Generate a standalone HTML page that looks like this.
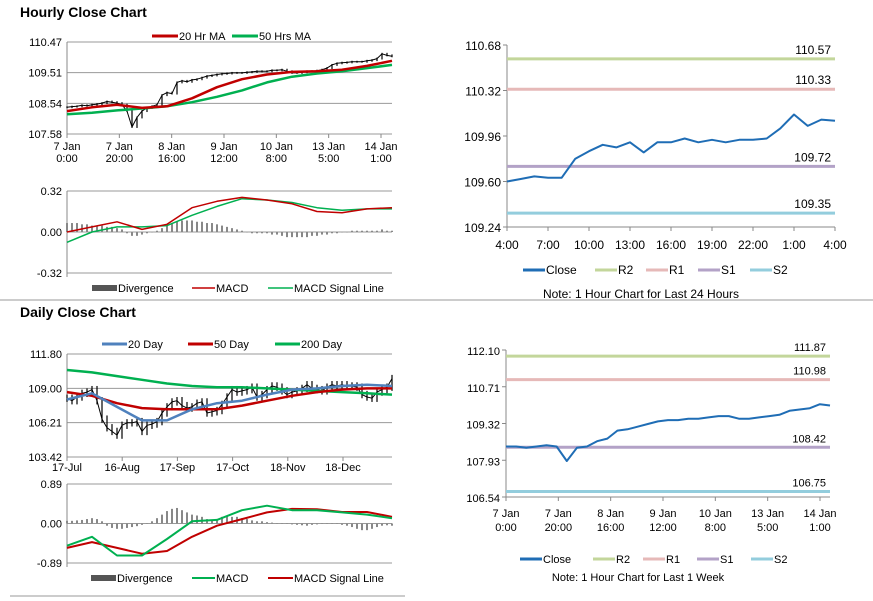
<!DOCTYPE html>
<html><head><meta charset="utf-8">
<style>
body{margin:0;background:#fff;}
svg{display:block;font-family:"Liberation Sans",sans-serif;}
.t{font-size:11px;fill:#000;}
.n{font-family:"Liberation Sans Narrow","Liberation Sans",sans-serif;font-size:12px;fill:#000;}
</style></head>
<body>
<svg id="s" width="873" height="601" viewBox="0 0 873 601">
<text x="20" y="17" font-size="14" font-weight="bold">Hourly Close Chart</text>
<text x="20" y="317" font-size="14" font-weight="bold">Daily Close Chart</text>
<line x1="0" y1="300" x2="873" y2="300" stroke="#999"/>
<line x1="10" y1="596" x2="405" y2="596" stroke="#999"/>
<g id="g"></g>
</svg>
<script>
// ---- Hourly price panel data ----
const hCloseVals=[108.42,108.44,108.45,108.48,108.47,108.5,108.52,108.55,108.6,108.58,108.55,108.5,108.3,107.8,108.1,108.3,108.4,108.45,108.5,108.8,108.88,108.85,109.2,109.25,109.22,109.28,109.3,109.35,109.4,109.42,109.45,109.47,109.48,109.5,109.5,109.5,109.52,109.53,109.55,109.55,109.55,109.58,109.58,109.6,109.55,109.5,109.5,109.52,109.55,109.55,109.57,109.6,109.65,109.75,109.8,109.82,109.83,109.85,109.85,109.85,109.88,109.9,109.95,110.1,110.05,110.02];
const hMA20=[108.3,108.42,108.5,108.4,108.45,108.7,109.05,109.3,109.45,109.53,109.55,109.6,109.72,109.88];
const hMA50=[108.2,108.25,108.32,108.38,108.45,108.58,108.75,108.95,109.2,109.38,109.48,109.55,109.65,109.75];
const hPriceTicks=["110.47","109.51","108.54","107.58"];
const hXTicks=[["7 Jan","0:00"],["7 Jan","20:00"],["8 Jan","16:00"],["9 Jan","12:00"],["10 Jan","8:00"],["13 Jan","5:00"],["14 Jan","1:00"]];
// ---- Hourly MACD ----
const hMacd=[0.0,0.04,0.08,0.02,0.06,0.19,0.24,0.27,0.25,0.22,0.16,0.15,0.18,0.19];
const hSignal=[-0.08,0.0,0.04,0.04,0.05,0.13,0.2,0.26,0.25,0.23,0.19,0.17,0.18,0.18];
const hDiv=[.07,.07,.07,.06,.06,.05,.05,.05,.04,.04,.03,.02,-.01,-.03,-.03,-.02,-.01,0,.01,.03,.05,.07,.08,.09,.09,.09,.08,.08,.07,.07,.06,.05,.04,.03,.02,.01,0,-.01,-.01,-.01,-.01,-.02,-.02,-.03,-.04,-.04,-.04,-.04,-.04,-.03,-.03,-.02,-.02,-.01,-.01,0,0,.01,.01,.01,.01,.01,.01,.02,.01,.01];
const hMacdTicks=["0.32","0.00","-0.32"];
// ---- Daily price ----
const dCloseVals=[108.2,108.0,108.3,108.6,108.7,108.9,108.0,106.5,105.8,105.5,105.2,106.0,106.2,106.2,106.3,105.5,106.0,106.1,106.3,107.0,107.5,107.9,108.0,107.6,107.4,107.5,107.8,107.9,107.0,107.1,107.2,107.7,108.3,108.9,108.7,108.8,108.9,109.1,108.3,108.5,108.9,109.2,109.1,108.8,108.5,108.7,108.8,109.0,109.3,109.0,108.9,108.8,109.1,109.3,109.2,109.3,109.2,109.2,109.1,108.5,108.3,108.2,108.7,108.9,109.1,109.8];
const d20=[108.1,108.6,107.5,106.4,106.4,107.3,107.8,108.0,108.5,108.9,109.0,109.2,109.3,109.2];
const d50=[108.7,108.4,107.8,107.4,107.3,107.3,107.3,107.6,108.0,108.4,108.7,108.9,109.0,109.0];
const d200=[110.5,110.3,110.0,109.7,109.4,109.2,109.1,109.1,109.0,108.9,108.8,108.7,108.6,108.5];
const dPriceTicks=["111.80","109.00","106.21","103.42"];
const dXTicks=["17-Jul","16-Aug","17-Sep","17-Oct","18-Nov","18-Dec"];
// ---- Daily MACD ----
const dMacd=[-0.5,-0.3,-0.72,-0.72,-0.35,0.05,0.08,0.3,0.4,0.3,0.3,0.25,0.2,0.12];
const dSignal=[-0.55,-0.42,-0.55,-0.68,-0.62,-0.3,-0.05,0.1,0.25,0.33,0.32,0.26,0.26,0.15];
const dDiv=[.06,.06,.07,.08,.1,.12,.1,.05,-.05,-.1,-.12,-.12,-.1,-.08,-.06,-.03,0,.05,.12,.2,.28,.33,.35,.3,.25,.2,.18,.15,.1,.08,.1,.15,.16,.15,.15,.12,.1,.07,.05,.05,.03,.02,0,0,-.01,-.02,-.03,-.04,-.05,-.03,-.02,-.01,0,0,-.01,-.03,-.05,-.08,-.12,-.15,-.15,-.12,-.08,-.05,-.04,-.05];
const dMacdTicks=["0.89","0.00","-0.89"];
// ---- Right hourly 24h ----
const r1Close=[109.60,109.62,109.64,109.63,109.63,109.78,109.84,109.89,109.87,109.91,109.83,109.91,109.91,109.94,109.91,109.93,109.91,109.93,109.93,109.94,110.02,110.13,110.04,110.09,110.08];
const r1Levels=[110.57,110.33,109.72,109.35];
const r1Ticks=["110.68","110.32","109.96","109.60","109.24"];
const r1XTicks=["4:00","7:00","10:00","13:00","16:00","19:00","22:00","1:00","4:00"];
// ---- Right 1 week ----
const r2Close=[108.45,108.45,108.4,108.45,108.5,108.45,107.9,108.4,108.45,108.65,108.75,109.05,109.1,109.2,109.3,109.4,109.45,109.45,109.5,109.5,109.55,109.6,109.6,109.5,109.5,109.55,109.6,109.65,109.8,109.85,109.9,110.05,110.0];
const r2Levels=[111.87,110.98,108.42,106.75];
const r2Ticks=["112.10","110.71","109.32","107.93","106.54"];
const r2XTicks=[["7 Jan","0:00"],["7 Jan","20:00"],["8 Jan","16:00"],["9 Jan","12:00"],["10 Jan","8:00"],["13 Jan","5:00"],["14 Jan","1:00"]];
const levelColors=["#c3d69b","#e6b9b8","#b3a2c7","#93cddd"];

const NS="http://www.w3.org/2000/svg";
const G=document.getElementById('g');
function el(tag,attrs,parent,txt){const e=document.createElementNS(NS,tag);for(const k in attrs)e.setAttribute(k,attrs[k]);if(txt!==undefined)e.textContent=txt;(parent||G).appendChild(e);return e;}
function lin(d0,d1,r0,r1){return v=>r0+(v-d0)/(d1-d0)*(r1-r0);}
function idxX(n,x0,x1){return i=>x0+i*(x1-x0)/(n-1);}
function path(vals,x0,x1,ys){const xs=idxX(vals.length,x0,x1);return vals.map((v,i)=>(i?'L':'M')+xs(i).toFixed(1)+' '+ys(v).toFixed(1)).join(' ');}

function yAxisLeft(ticks,tops,x0,x1,cls,name,fs){
  const n=ticks.length;
  ticks.forEach((t,i)=>{const y=tops[0]+i*(tops[1]-tops[0])/(n-1);
    const g=el('line',{x1:x0,y1:y,x2:x1,y2:y,stroke:'#999','stroke-width':1});
    
    
    const tx=el('text',{x:x0-5,y:y+4,'text-anchor':'end','class':cls,'font-size':fs||11},G,t);
    
    
  });
  const ax=el('line',{x1:x0,y1:tops[0],x2:x0,y2:tops[1]+4,stroke:'#888'});
  
  
}
function legendLine(x,y,w,col,sw,label,cls,fs){
  const l=el('line',{x1:x,y1:y,x2:x+w,y2:y,stroke:col,'stroke-width':sw});
  
  
  const t=el('text',{x:x+w+1,y:y+4,'class':cls,'font-size':fs},G,label);
  
  
}
function legendBlock(x,y,label){
  const r=el('rect',{x:x,y:y-3,width:25,height:6,fill:'#555'});
  
  
  const t=el('text',{x:x+26,y:y+4,'class':'t','font-size':11},G,label);
  
  
}
function bars(vals,x0,x1,ys){const xs=idxX(vals.length,x0,x1);const z=ys(0);
  vals.forEach((v,i)=>{const y=ys(v);const r=el('rect',{x:xs(i)-1,y:Math.min(y,z),width:2,height:Math.max(0.5,Math.abs(y-z)),fill:'#888'});
    
    });
}
function line(vals,x0,x1,ys,col,w,name){const p=el('path',{d:path(vals,x0,x1,ys),fill:'none',stroke:col,'stroke-width':w,'stroke-linejoin':'round'});
  
  }
function priceTicks(vals,x0,x1,ys,amp){const xs=idxX(vals.length,x0,x1);
  vals.forEach((v,i)=>{const prev=i?vals[i-1]:v;const hi=Math.max(v,prev)+amp,lo=Math.min(v,prev)-amp;
    const l=el('line',{x1:xs(i),y1:ys(hi),x2:xs(i),y2:ys(lo),stroke:'#000','stroke-width':1.2});
    
    });
  line(vals,x0,x1,ys,'#000',1,'close-line');
}

// ===== Hourly price =====
(function(){const x0=67,x1=392,y0=42,y1=134;
  yAxisLeft(hPriceTicks,[y0,y1],x0,x1,'t','price-tick-label');
  const ys=lin(107.58,110.47,y1,y0);
  priceTicks(hCloseVals,x0,x1,ys,0.03);
  line(hMA50,x0,x1,ys,'#00b050',2.5,'ma50-line');
  line(hMA20,x0,x1,ys,'#c00000',2.5,'ma20-line');
  const xs=idxX(hXTicks.length,x0,381);
  hXTicks.forEach((t,i)=>{const tk=el('line',{x1:xs(i),y1:y1,x2:xs(i),y2:y1+4,stroke:'#888'});
    const a=el('text',{x:xs(i),y:150,'text-anchor':'middle','class':'t'},G,t[0]);
    const b=el('text',{x:xs(i),y:162,'text-anchor':'middle','class':'t'},G,t[1]);});
  legendLine(152,36,26,'#c00000',3,'20 Hr MA','t',11);
  legendLine(232,36,26,'#00b050',3,'50 Hrs MA','t',11);
})();
// ===== Hourly MACD =====
(function(){const x0=67,x1=392,y0=191,y1=273;
  yAxisLeft(hMacdTicks,[y0,y1],x0,x1,'t','macd-tick-label');
  const ys=lin(-0.32,0.32,y1,y0);
  bars(hDiv,x0,x1,ys);
  line(hSignal,x0,x1,ys,'#00b050',1.5,'macd-signal-line');
  line(hMacd,x0,x1,ys,'#c00000',1.5,'macd-line');
  legendBlock(92,288,'Divergence');
  legendLine(192,288,23,'#c00000',1.5,'MACD','t',11);
  legendLine(268,288,25,'#00b050',1.5,'MACD Signal Line','t',11);
})();
// ===== Daily price =====
(function(){const x0=67,x1=392,y0=354,y1=457;
  yAxisLeft(dPriceTicks,[y0,y1],x0,x1,'t','price-tick-label');
  const ys=lin(103.42,111.8,y1,y0);
  priceTicks(dCloseVals,x0,x1,ys,0.3);
  line(d200,x0,x1,ys,'#00b050',2.5,'ma200-line');
  line(d50,x0,x1,ys,'#c00000',2.5,'ma50-line');
  line(d20,x0,x1,ys,'#4f81bd',2.5,'ma20-line');
  const xs=idxX(dXTicks.length,x0,343);
  dXTicks.forEach((t,i)=>{const tk=el('line',{x1:xs(i),y1:y1,x2:xs(i),y2:y1+4,stroke:'#888'});
    const a=el('text',{x:xs(i),y:471,'text-anchor':'middle','class':'t'},G,t);});
  legendLine(102,344,25,'#4f81bd',3,'20 Day','t',11);
  legendLine(188,344,25,'#c00000',3,'50 Day','t',11);
  legendLine(275,344,25,'#00b050',3,'200 Day','t',11);
})();
// ===== Daily MACD =====
(function(){const x0=67,x1=392,y0=484,y1=563;
  yAxisLeft(dMacdTicks,[y0,y1],x0,x1,'t','macd-tick-label');
  const ys=lin(-0.89,0.89,y1,y0);
  bars(dDiv,x0,x1,ys);
  line(dSignal,x0,x1,ys,'#c00000',2,'macd-signal-line');
  line(dMacd,x0,x1,ys,'#00b050',2,'macd-line');
  legendBlock(91,578,'Divergence');
  legendLine(192,578,23,'#00b050',2,'MACD','t',11);
  legendLine(268,578,25,'#c00000',2,'MACD Signal Line','t',11);
})();
// ===== Right panels =====
function rightPanel(o){
  const {x0,x1,y0,y1,lo,hi,ticks,close,levels,xt,two,xtMax,xlY,legY,note,noteY,legX,cls,fs}=o;
  ticks.forEach((t,i)=>{const y=y0+i*(y1-y0)/(ticks.length-1);
    const tk=el('line',{x1:x0-4,y1:y,x2:x0,y2:y,stroke:'#888'});
    const tx=el('text',{x:x0-6,y:y+5,'text-anchor':'end','class':cls,'font-size':fs},G,t);});
  const ax=el('line',{x1:x0,y1:y0,x2:x0,y2:y1,stroke:'#888'});
  const bx=el('line',{x1:x0,y1:y1,x2:x1,y2:y1,stroke:'#888'});
  const ys=lin(lo,hi,y1,y0);
  levels.forEach((v,i)=>{const l=el('line',{x1:x0,y1:ys(v),x2:x1,y2:ys(v),stroke:levelColors[i],'stroke-width':3});
    
    const t=el('text',{x:x1-4,y:ys(v)-5,'text-anchor':'end','class':cls,'font-size':fs},G,v.toFixed(2));
    });
  line(close,x0,x1,ys,'#1f6db5',2,'close-line');
  const xs=idxX(xt.length,x0,xtMax);
  xt.forEach((t,i)=>{const tk=el('line',{x1:xs(i),y1:y1,x2:xs(i),y2:y1+4,stroke:'#888'});
    if(two){const a=el('text',{x:xs(i),y:xlY,'text-anchor':'middle','class':cls,'font-size':fs},G,t[0]);
      const b=el('text',{x:xs(i),y:xlY+14,'text-anchor':'middle','class':cls,'font-size':fs},G,t[1]);}
    else{const a=el('text',{x:xs(i),y:xlY,'text-anchor':'middle','class':cls,'font-size':fs},G,t);}});
  const labs=['Close','R2','R1','S1','S2'];const cols=['#1f6db5'].concat(levelColors);
  labs.forEach((l,i)=>legendLine(legX[i],legY,22,cols[i],3,l,cls,fs));
  const n=el('text',{x:(x0+x1)/2-30,y:noteY,'text-anchor':'middle','class':cls,'font-size':10},G,note);
  
}
rightPanel({x0:507,x1:835,y0:45,y1:227,lo:109.24,hi:110.68,ticks:r1Ticks,close:r1Close,levels:r1Levels,xt:r1XTicks,two:false,xtMax:835,xlY:249,legY:270,note:'Note: 1 Hour Chart for Last 24 Hours',noteY:298,legX:[523,595,646,698,750],cls:'n',fs:12});
rightPanel({x0:506,x1:830,y0:350,y1:497,lo:106.54,hi:112.10,ticks:r2Ticks,close:r2Close,levels:r2Levels,xt:r2XTicks,two:true,xtMax:820,xlY:517,legY:559,note:'Note: 1 Hour Chart for Last 1 Week',noteY:581,legX:[520,593,643,697,751],cls:'t',fs:11});
</script>
</body></html>
